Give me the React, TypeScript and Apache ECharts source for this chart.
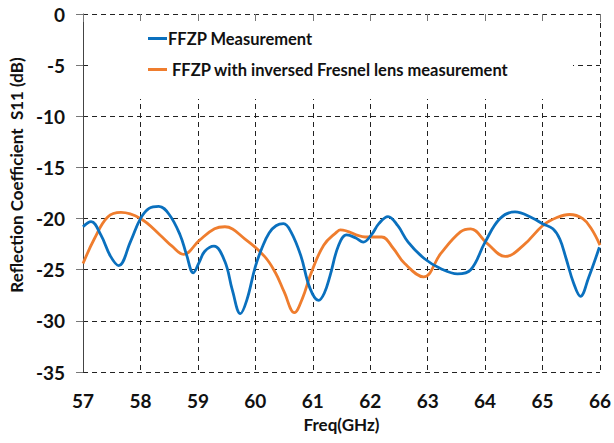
import React, { useEffect, useRef } from "react";
import * as echarts from "echarts";

const blueFreq = [57.0, 57.14, 57.31, 57.48, 57.62, 57.83, 58.0, 58.15, 58.32, 58.5, 58.69, 58.8, 58.92, 59.02, 59.12, 59.28, 59.47, 59.6, 59.74, 59.85, 60.0, 60.12, 60.24, 60.36, 60.49, 60.62, 60.79, 60.95, 61.1, 61.2, 61.3, 61.45, 61.59, 61.75, 61.88, 62.02, 62.15, 62.31, 62.48, 62.66, 62.94, 63.23, 63.52, 63.75, 64.0, 64.26, 64.52, 64.84, 65.0, 65.18, 65.3, 65.41, 65.54, 65.66, 65.8, 65.99];
const blueS11 = [-20.8, -20.3, -21.6, -23.7, -24.6, -22.2, -20.0, -19.0, -18.8, -19.6, -21.6, -23.5, -25.3, -24.3, -23.2, -22.7, -24.2, -27.0, -29.3, -28.0, -24.7, -22.8, -21.4, -20.7, -20.5, -21.3, -23.6, -26.8, -28.0, -27.3, -25.6, -22.6, -21.6, -21.9, -22.3, -21.6, -20.5, -19.8, -20.7, -22.3, -23.9, -24.9, -25.4, -25.0, -22.3, -20.0, -19.35, -20.0, -20.5, -21.0, -22.0, -23.9, -26.3, -27.6, -25.8, -22.8];

const orangeFreq = [57.0, 57.2, 57.43, 57.66, 58.0, 58.34, 58.55, 58.75, 59.03, 59.29, 59.47, 59.81, 60.16, 60.35, 60.5, 60.68, 60.82, 60.96, 61.19, 61.42, 61.48, 61.91, 62.2, 62.4, 62.6, 62.93, 63.23, 63.57, 63.75, 64.03, 64.35, 64.67, 65.01, 65.25, 65.47, 65.7, 65.85, 66.0];
const orangeS11 = [-24.4, -21.95, -19.85, -19.4, -20.0, -21.6, -22.7, -23.5, -22.1, -21.0, -20.8, -21.95, -23.7, -25.3, -27.15, -29.2, -27.8, -25.5, -22.6, -21.3, -21.1, -21.8, -21.8, -22.9, -24.4, -25.7, -23.4, -21.3, -21.0, -22.4, -23.7, -22.6, -20.65, -19.9, -19.6, -20.0, -21.0, -22.6];

const xTicks = { min: 57, max: 66, step: 1 };
const yTicks = { min: -35, max: 0, step: 5 };

const seriesNames = ["FFZP Measurement", " FFZP with inversed Fresnel lens measurement"];
const seriesColors = ["#0a70be", "#ef7d2e"];

const FONT = "Lato, 'Open Sans', sans-serif";

export default function App() {
  const ref = useRef<HTMLDivElement>(null);
  useEffect(() => {
    if (!ref.current) return;
    const chart = echarts.init(ref.current, undefined, { renderer: "svg" });
    const pair = (xs: number[], ys: number[]) => xs.map((x, i) => [x, ys[i]]);
    chart.setOption({
      animation: false,
      backgroundColor: "#ffffff",
      textStyle: { fontFamily: FONT },
      grid: { left: 82, right: 11, top: 14, bottom: 71, containLabel: false },
      xAxis: {
        type: "value",
        min: xTicks.min,
        max: xTicks.max,
        interval: xTicks.step,
        name: "Freq(GHz)",
        nameLocation: "middle",
        nameGap: 44,
        nameTextStyle: { fontFamily: FONT, fontWeight: "bold", fontSize: 17, color: "#111" },
        axisLine: { show: false },
        axisTick: { show: true, length: 8, inside: false, lineStyle: { color: "#777" } },
        axisLabel: { fontFamily: FONT, fontWeight: "bold", fontSize: 19, color: "#111", margin: 19 },
        splitLine: { show: true, lineStyle: { color: "#222", type: [5, 4], width: 1 } },
      },
      yAxis: {
        type: "value",
        min: yTicks.min,
        max: yTicks.max,
        interval: yTicks.step,
        name: "Reflection Coefficient  S11 (dB)",
        nameLocation: "middle",
        nameGap: 52,
        nameTextStyle: { fontFamily: FONT, fontWeight: "bold", fontSize: 17, color: "#111", padding: [0, 0, 0, 36] },
        axisLine: { show: true, lineStyle: { color: "#444", width: 1 } },
        axisTick: { show: true, length: 7, lineStyle: { color: "#777" } },
        axisLabel: { fontFamily: FONT, fontWeight: "bold", fontSize: 19, color: "#111", margin: 18 },
        splitLine: { show: true, lineStyle: { color: "#222", type: [5, 4], width: 1 } },
      },
      graphic: [
        {
          type: "rect",
          z: 5,
          shape: { x: 91, y: 21, width: 482, height: 78 },
          style: { fill: "#ffffff" },
        },
      ],
      legend: {
        z: 10,
        orient: "vertical",
        left: 143,
        top: 25,
        itemGap: 14,
        itemWidth: 19,
        itemHeight: 3,
        icon: "rect",
        data: seriesNames,
        textStyle: { fontFamily: FONT, fontWeight: "bold", fontSize: 16.5, color: "#111", padding: [0, 0, 0, -4] },
      },
      series: [
        {
          name: seriesNames[0],
          type: "line",
          smooth: 0.4,
          showSymbol: false,
          symbol: "none",
          data: pair(blueFreq, blueS11),
          lineStyle: { color: seriesColors[0], width: 2.8 },
          itemStyle: { color: seriesColors[0] },
          z: 3,
        },
        {
          name: seriesNames[1],
          type: "line",
          smooth: 0.4,
          showSymbol: false,
          symbol: "none",
          data: pair(orangeFreq, orangeS11),
          lineStyle: { color: seriesColors[1], width: 2.8 },
          itemStyle: { color: seriesColors[1] },
          z: 2,
        },
      ],
    });
    return () => chart.dispose();
  }, []);
  return <div ref={ref} style={{ width: 614, height: 443, position: "absolute", left: 0, top: 0 }} />;
}
